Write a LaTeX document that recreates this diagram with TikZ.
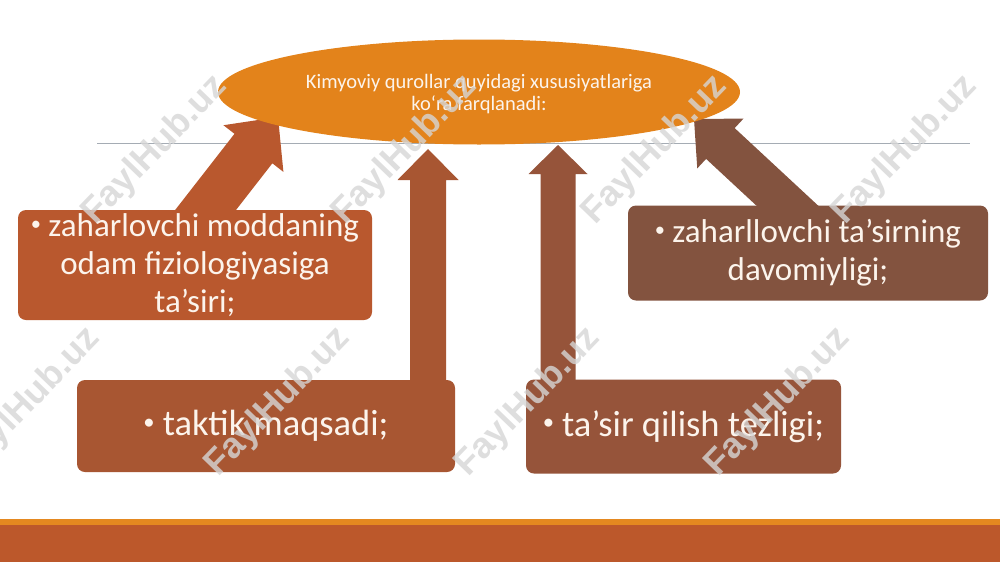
\documentclass[tikz,border=0pt]{standalone}
\usepackage{fontspec}
\setmainfont{Carlito}
\newfontfamily\wmfont{Liberation Sans}
\usetikzlibrary{calc,shapes.geometric}
\definecolor{ellor}{RGB}{227,131,27}
\definecolor{boxa}{RGB}{185,88,46}
\definecolor{boxb}{RGB}{168,86,50}
\definecolor{boxc}{RGB}{150,84,58}
\definecolor{boxd}{RGB}{131,83,63}
\definecolor{txtc}{RGB}{252,244,236}
\definecolor{barc}{RGB}{188,88,43}
\definecolor{linec}{RGB}{228,136,32}
\definecolor{grayl}{RGB}{165,172,180}
\newcommand{\blockarrow}[6]{%
  \coordinate (hb) at ($(#2)!#5!(#1)$);
  \fill[#6] ($(#1)!#3!90:(#2)$) -- ($(hb)!#3!90:(#2)$) -- ($(hb)!#4!90:(#2)$) -- (#2)
    -- ($(hb)!#4!-90:(#2)$) -- ($(hb)!#3!-90:(#2)$) -- ($(#1)!#3!-90:(#2)$) -- cycle;}
\newcommand{\bul}{\raisebox{0.18em}{\scalebox{0.62}{•}}\hspace{0.22em}}
\tikzset{
  itembox/.style={rectangle, rounded corners=8pt, fill=#1, text=txtc, align=center, inner sep=0pt},
  bigtext/.style={font=\fontsize{33}{38}\selectfont},
  hugetext/.style={font=\fontsize{36.5}{42}\selectfont},
  wmark/.style={font=\wmfont\bfseries\fontsize{36}{36}\selectfont, text=black!16, rotate=46, opacity=0.8}
}
\begin{document}
\begin{tikzpicture}[x=1pt,y=-1pt]
\useasboundingbox (0,0) rectangle (1000,562);
\fill[white] (0,0) rectangle (1000,562);
% thin gray rule
\coordinate (gl) at (97,143);
\coordinate (gr) at (970,143);
\draw[grayl, line width=1pt] (gl) -- (gr);
% arrow coordinates
\coordinate (b1) at (190,230); \coordinate (t1) at (278,117);
\coordinate (b2) at (428,400); \coordinate (t2) at (428,149);
\coordinate (b3) at (558,400); \coordinate (t3) at (558,145);
\coordinate (b4) at (806,223); \coordinate (t4) at (694,119);
\blockarrow{b1}{t1}{24pt}{38pt}{40pt}{boxa}
\blockarrow{b2}{t2}{18pt}{30.5pt}{31pt}{boxb}
\blockarrow{b3}{t3}{17.5pt}{29.5pt}{29pt}{boxc}
\blockarrow{b4}{t4}{21pt}{34pt}{36pt}{boxd}
% boxes
\node[itembox=boxa, bigtext, minimum width=354pt, minimum height=110pt] (n1) at (195,265)
  {\bul zaharlovchi moddaning\\odam fiziologiyasiga\\ta’siri;};
\node[itembox=boxb, hugetext, minimum width=378pt, minimum height=92pt] (n2) at (266,426)
  {\bul taktik maqsadi;};
\node[itembox=boxc, hugetext, minimum width=315pt, minimum height=94pt] (n3) at (683.5,426.5)
  {\bul ta’sir qilish tezligi;};
\node[itembox=boxd, bigtext, minimum width=360pt, minimum height=95pt] (n4) at (808,253)
  {\bul zaharllovchi ta’sirning\\davomiyligi;};
% ellipse
\node[ellipse, fill=ellor, minimum width=522pt, minimum height=105pt, inner sep=0pt] (el) at (479,92) {};
\node[text=txtc, align=center, font=\fontsize{20.5}{22}\selectfont] (eltext) at (479,94)
  {Kimyoviy qurollar quyidagi xususiyatlariga\\ko‘ra farqlanadi:};
% bottom band
\fill[linec] (0,519) rectangle (1000,525);
\fill[barc] (0,525) rectangle (1000,562);
% watermarks
\node[wmark] (w1) at (155,150) {FaylHub.uz};
\node[wmark] (w2) at (405,150) {FaylHub.uz};
\node[wmark] (w3) at (655,150) {FaylHub.uz};
\node[wmark] (w4) at (905,150) {FaylHub.uz};
\node[wmark] (w5) at (28,402) {FaylHub.uz};
\node[wmark] (w6) at (278,402) {FaylHub.uz};
\node[wmark] (w7) at (528,402) {FaylHub.uz};
\node[wmark] (w8) at (778,402) {FaylHub.uz};
\end{tikzpicture}
\end{document}
